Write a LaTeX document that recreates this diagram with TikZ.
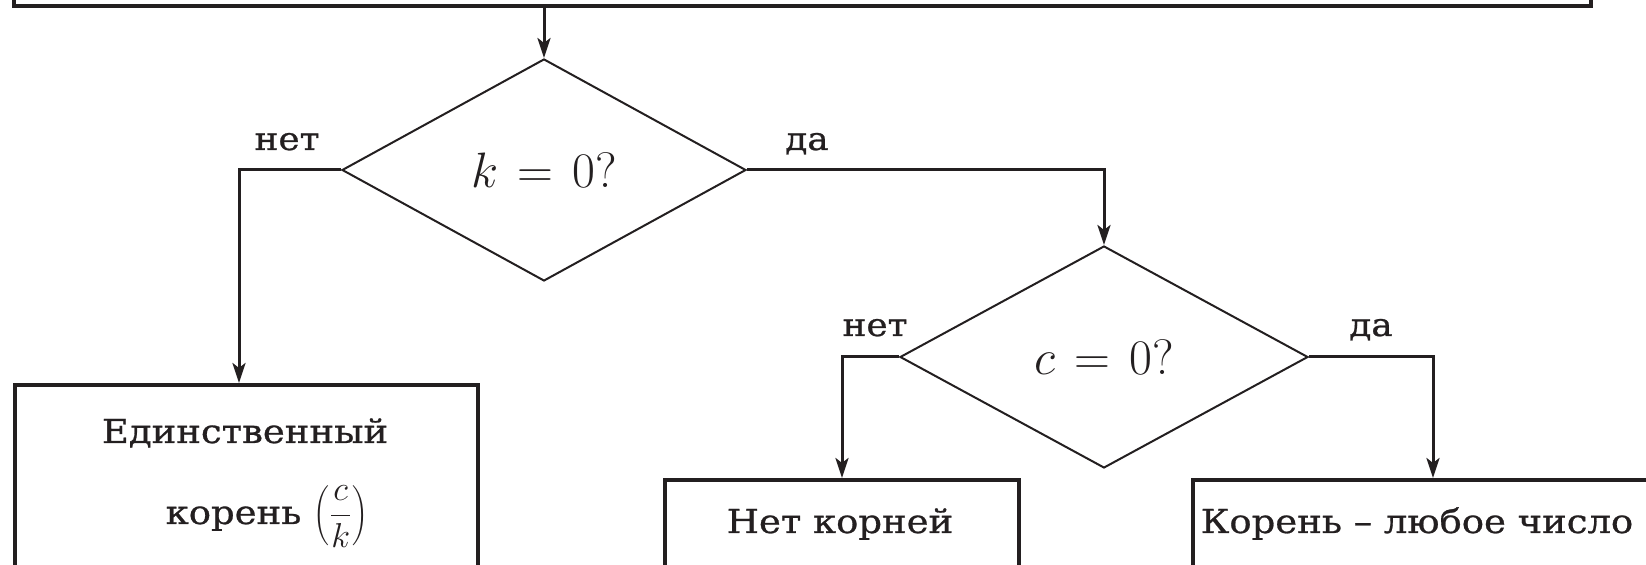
\documentclass[tikz,border=0pt]{standalone}
\usepackage[no-math]{fontspec}
\setmainfont{DejaVu Serif}[FakeStretch=1.12, FakeBold=0.8]
\usetikzlibrary{shapes.geometric,arrows.meta}
\definecolor{inkc}{RGB}{35,31,32}
\begin{document}
\begin{tikzpicture}[x=0.5pt,y=-0.5pt,
  block/.style={draw=inkc, line width=2pt, rectangle, inner sep=0pt},
  test/.style={draw=inkc, line width=1pt, diamond, inner sep=0pt,
    minimum height=111pt, text=inkc, font=\fontsize{23}{27}\selectfont,
    execute at begin node={\thickmuskip=7mu\relax}},
  flow/.style={draw=inkc, line width=1.5pt,
    -{Stealth[length=10pt,width=6.5pt,inset=2.5pt]}},
  txt/.style={text=inkc, inner sep=0pt, font=\fontsize{16.5}{20}\selectfont},
  branch/.style={text=inkc, inner sep=0pt, font=\fontsize{16}{19}\selectfont}]
\useasboundingbox (0,0) rectangle (1646,565);

% start block (only its lower edge is in view)
\node[block, anchor=south west, minimum width=788.5pt, minimum height=60pt] (start) at (12,8) {};

% decisions
\node[test, minimum width=202pt] (d1) at (544,170) {$k = 0?$};
\node[test, minimum width=204pt] (d2) at (1104,357) {$c = 0?$};

% result blocks
\node[block, anchor=north west, minimum width=231.5pt, minimum height=130pt] (b1) at (13,383) {};
\node[block, anchor=north west, minimum width=177pt, minimum height=100pt] (b2) at (663,478) {};
\node[block, anchor=north west, minimum width=240pt, minimum height=100pt] (b3) at (1191,478) {};

\node[txt, anchor=base] (b1a) at (245,443) {Единственный};
\node[txt, anchor=base] (b1b) at (267,524)
  {корень {\fontsize{18}{22}\selectfont$\left(\displaystyle\frac{c}{k}\right)$}};
\node[txt, anchor=base] (b2t) at (840,533) {Нет корней};
\node[txt, anchor=base] (b3t) at (1417,533) {Корень – любое число};

% connectors
\draw[flow] (d1.north |- start.south) -- (d1.north);
\draw[flow] (d1.west) -| ([xshift=-3.75pt]b1.north);
\draw[flow] (d1.east) -| (d2.north);
\draw[flow] (d2.west) -| (b2.north);
\draw[flow] (d2.east) -| (b3.north);

% branch labels
\node[branch, anchor=base] (n1) at (287,150) {нет};
\node[branch, anchor=base] (y1) at (807,150) {да};
\node[branch, anchor=base] (n2) at (875,336) {нет};
\node[branch, anchor=base] (y2) at (1371,336) {да};
\end{tikzpicture}
\end{document}
